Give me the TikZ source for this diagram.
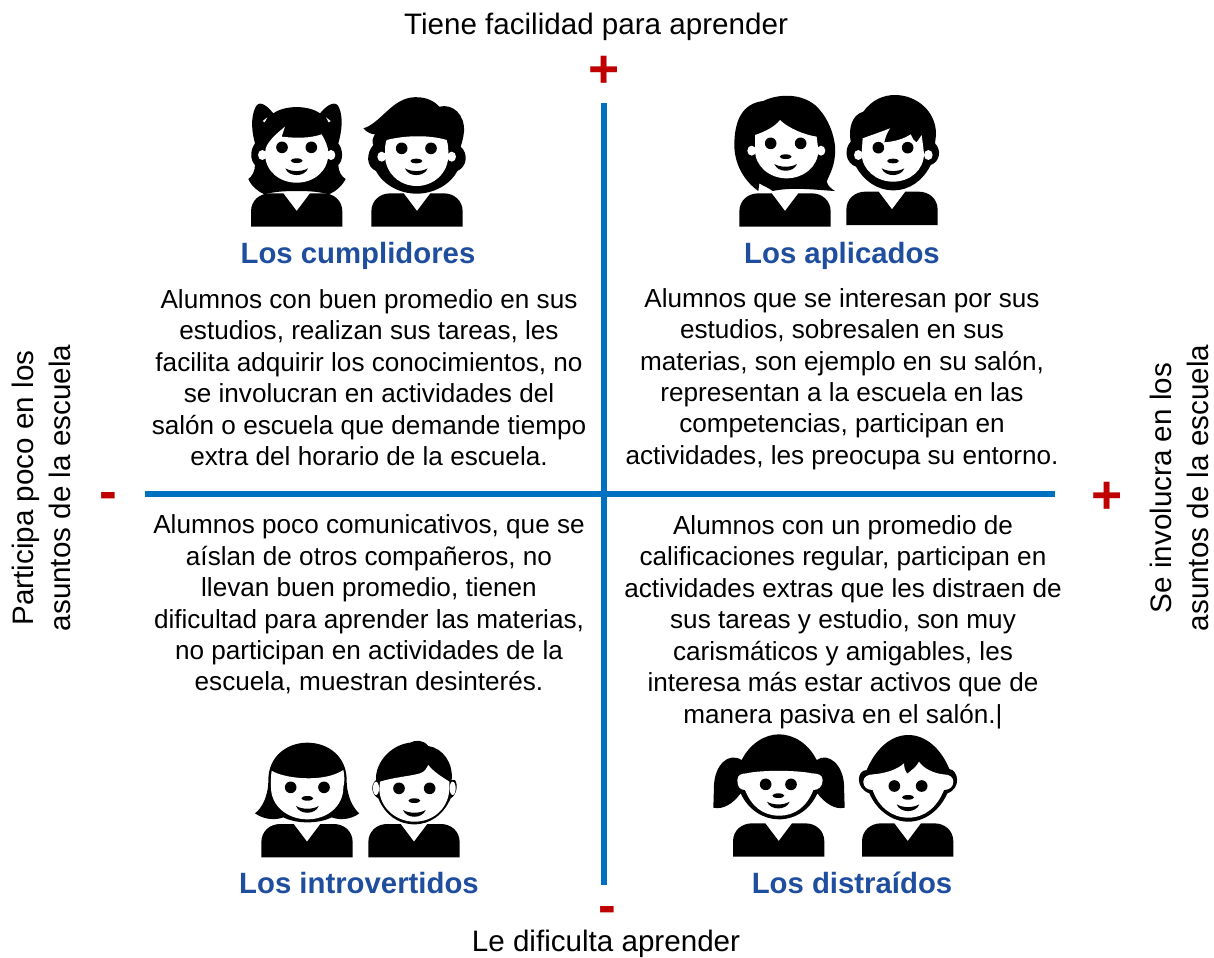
\documentclass[tikz,border=0pt]{standalone}
\usepackage{fontspec}
\setmainfont{Liberation Sans}
\definecolor{ejeblue}{HTML}{0070C0}
\definecolor{signred}{HTML}{C00000}
\definecolor{titleblue}{HTML}{1F4E9E}
\tikzset{
	eje/.style={line width=4.2pt,ejeblue},
	signo/.style={signred,font=\fontsize{40}{40}\selectfont\bfseries,inner sep=0pt},
	rotulo/.style={font=\fontsize{22.2}{27.8}\selectfont,align=center,inner sep=0pt},
	titulo/.style={titleblue,font=\fontsize{22}{24}\selectfont\bfseries,inner sep=0pt},
	parrafo/.style={font=\fontsize{19.6}{23.6}\selectfont,align=center,inner sep=0pt},
	panel/.style={shift={#1},x=0.25pt,y=-0.25pt},
	torso/.pic={
		\fill (-137,0) -- (-137,-45) .. controls (-137,-80) and (-110,-100) .. (-80,-100) -- (-40,-100) -- (0,-47) -- (40,-100) -- (80,-100) .. controls (110,-100) and (137,-80) .. (137,-45) -- (137,0) -- cycle;
	},
}
% ojos, nariz y sonrisa
\newcommand{\carita}[5]{
	\fill (#1-#3,#2) circle(17.5 and 17.5);
	\fill (#1+#3,#2) circle(17.5 and 17.5);
	\fill (#1,#2+#4) ellipse(18 and 7);
	\fill (#1-34,#2+#5) .. controls (#1-15,#2+#5+11) and (#1+15,#2+#5+11) .. (#1+34,#2+#5) .. controls (#1+24,#2+#5+27) and (#1-24,#2+#5+27) .. (#1-34,#2+#5) -- cycle;
}
\begin{document}
\begin{tikzpicture}[x=0.75pt,y=-0.75pt]
	\useasboundingbox (0,0) rectangle (1214,957);

	\coordinate (arriba) at (604,103);
	\coordinate (abajo) at (604,885);
	\coordinate (izq) at (145,494);
	\coordinate (der) at (1055,494);
	\draw[eje] (arriba) -- (abajo);
	\draw[eje] (izq) -- (der);

	\node[signo] (masarriba) at (604,72) {+};
	\node[signo] (menosizq) at (108,501) {-};
	\node[signo] (masder) at (1107,498) {+};
	\node[signo] (menosabajo) at (607,915) {-};

	\node[rotulo] (tiene) at (596,27) {Tiene facilidad para aprender};
	\node[rotulo] (dificulta) at (606,944) {Le dificulta aprender};
	\node[rotulo,rotate=90] (participa) at (41,488) {Participa poco en los\\asuntos de la escuela};
	\node[rotulo,rotate=90] (involucra) at (1179,488) {Se involucra en los\\asuntos de la escuela};

	% arriba izquierda
	\begin{scope}[panel={(230,85)}]
		\pic at (200,425) {torso};
		\pic at (561,425) {torso};
		\fill (75,70) .. controls (85,45) and (105,55) .. (130,85) .. controls (165,60) and (235,60) .. (270,85) .. controls (295,55) and (320,45) .. (328,70) .. controls (340,100) and (335,140) .. (325,175) .. controls (340,195) and (340,225) .. (325,240) .. controls (325,260) and (335,275) .. (347,282) .. controls (335,305) and (315,320) .. (297,328) .. controls (265,320) and (240,318) .. (200,318) .. controls (160,318) and (135,320) .. (103,328) .. controls (85,320) and (65,305) .. (55,282) .. controls (65,275) and (75,260) .. (75,240) .. controls (60,225) and (60,195) .. (75,175) .. controls (65,140) and (62,100) .. (75,70) -- cycle;
		\fill[white] (105,205) .. controls (105,185) and (115,165) .. (165,125) -- (155,155) .. controls (200,160) and (240,160) .. (275,148) .. controls (285,165) and (295,185) .. (295,205) .. controls (295,260) and (250,293) .. (200,293) .. controls (150,293) and (105,260) .. (105,205) -- cycle;
		\fill[white] (97,210) circle(13 and 15);
		\fill[white] (303,210) circle(13 and 15);
		\fill[white] (98,108) -- (112,97) -- (104,112) -- cycle;
		\fill[white] (302,108) -- (288,97) -- (296,112) -- cycle;
		\carita{200}{187}{44}{40}{63}
		\fill (400,130) .. controls (450,115) and (480,50) .. (540,38) .. controls (580,32) and (610,45) .. (628,65) .. controls (670,55) and (705,90) .. (702,140) .. controls (700,160) and (695,175) .. (692,185) .. controls (715,205) and (712,245) .. (682,258) .. controls (660,300) and (610,326) .. (560,326) .. controls (510,326) and (460,300) .. (438,258) .. controls (408,245) and (408,205) .. (430,180) .. controls (425,170) and (428,158) .. (435,148) .. controls (425,148) and (410,142) .. (400,130) -- cycle;
		\fill[white] (465,210) .. controls (465,190) and (465,175) .. (470,165) .. controls (530,150) and (600,150) .. (650,165) .. controls (655,180) and (655,195) .. (655,210) .. controls (655,265) and (610,303) .. (560,303) .. controls (510,303) and (465,265) .. (465,210) -- cycle;
		\fill[white] (455,215) circle(13 and 15);
		\fill[white] (665,215) circle(13 and 15);
		\carita{559}{190}{44}{38}{60}
	\end{scope}

	% arriba derecha
	\begin{scope}[panel={(720,85)}]
		\pic at (195,425) {torso};
		\pic at (516,420) {torso};
		\fill (43,180) .. controls (43,110) and (65,55) .. (130,48) .. controls (165,30) and (235,20) .. (285,60) .. controls (330,100) and (350,170) .. (345,210) .. controls (342,250) and (325,275) .. (320,290) .. controls (325,305) and (335,312) .. (345,318) .. controls (290,315) and (220,305) .. (158,318) .. controls (145,308) and (125,300) .. (118,295) -- (115,318) .. controls (75,290) and (43,240) .. (43,180) -- cycle;
		\fill[white] (105,195) -- (105,150) .. controls (135,140) and (165,125) .. (180,105) .. controls (205,130) and (255,150) .. (290,155) -- (295,195) .. controls (295,245) and (250,280) .. (200,280) .. controls (150,280) and (105,245) .. (105,195) -- cycle;
		\fill[white] (95,197) circle(13 and 15);
		\fill[white] (303,197) circle(13 and 15);
		\carita{197}{175}{45}{40}{62}
		\fill (392,170) .. controls (385,130) and (395,90) .. (430,80) .. controls (455,45) and (490,30) .. (525,30) .. controls (590,30) and (650,80) .. (648,150) -- (645,175) .. controls (665,195) and (660,230) .. (632,240) .. controls (610,285) and (570,316) .. (520,316) .. controls (470,316) and (430,285) .. (408,245) .. controls (378,235) and (370,195) .. (392,170) -- cycle;
		\fill[white] (425,205) -- (428,160) .. controls (455,150) and (485,140) .. (510,130) .. controls (500,145) and (495,160) .. (493,172) .. controls (525,170) and (555,160) .. (572,148) .. controls (575,158) and (582,168) .. (590,172) -- (605,150) -- (612,205) .. controls (612,255) and (570,290) .. (519,290) .. controls (470,290) and (425,255) .. (425,205) -- cycle;
		\fill[white] (415,210) circle(13 and 15);
		\fill[white] (625,210) circle(13 and 15);
		\carita{519}{188}{44}{40}{62}
	\end{scope}

	% abajo izquierda
	\begin{scope}[panel={(240,730)}]
		\pic at (201,382) {torso};
		\pic at (522,382) {torso};
		\fill (45,250) .. controls (65,235) and (85,200) .. (85,150) .. controls (85,80) and (140,38) .. (202,38) .. controls (265,38) and (320,80) .. (320,150) .. controls (320,200) and (340,235) .. (358,250) .. controls (335,268) and (300,272) .. (275,262) .. controls (255,272) and (230,277) .. (202,277) .. controls (175,277) and (150,272) .. (130,262) .. controls (105,272) and (70,268) .. (45,250) -- cycle;
		\fill[white] (95,122) .. controls (130,145) and (250,160) .. (310,120) .. controls (315,140) and (313,160) .. (310,172) .. controls (310,230) and (260,268) .. (202,268) .. controls (145,268) and (93,230) .. (93,172) .. controls (93,155) and (92,140) .. (95,122) -- cycle;
		\carita{202}{172}{50}{33}{56}
		\fill (408,150) .. controls (405,100) and (450,45) .. (510,38) .. controls (525,30) and (550,28) .. (565,48) .. controls (610,55) and (640,100) .. (635,150) -- (645,150) .. controls (655,165) and (650,195) .. (632,205) .. controls (610,255) and (570,283) .. (523,283) .. controls (475,283) and (435,255) .. (415,205) .. controls (395,195) and (390,165) .. (408,150) -- cycle;
		\fill[white] (420,155) .. controls (460,142) and (515,138) .. (540,130) .. controls (555,125) and (560,115) .. (565,105) .. controls (580,125) and (605,140) .. (628,155) -- (628,178) .. controls (625,235) and (580,275) .. (523,275) .. controls (470,275) and (420,235) .. (418,178) -- cycle;
		\fill[white] (408,175) circle(9 and 20);
		\fill[white] (638,175) circle(9 and 20);
		\carita{523}{175}{46}{37}{65}
	\end{scope}

	% abajo derecha
	\begin{scope}[panel={(700,725)}]
		\pic at (236,395) {torso};
		\pic at (623,395) {torso};
		\fill (40,248) -- (42,180) .. controls (45,120) and (85,80) .. (125,105) .. controls (150,55) and (195,28) .. (237,28) .. controls (280,28) and (325,55) .. (350,105) .. controls (385,80) and (430,120) .. (432,180) -- (434,248) .. controls (405,255) and (375,235) .. (352,205) .. controls (330,255) and (285,283) .. (237,283) .. controls (190,283) and (145,255) .. (122,205) .. controls (100,235) and (70,255) .. (40,248) -- cycle;
		\fill[white] (112,165) .. controls (112,150) and (125,145) .. (140,145) .. controls (180,135) and (290,135) .. (335,145) .. controls (355,145) and (368,150) .. (368,165) .. controls (368,185) and (355,195) .. (340,195) .. controls (320,245) and (285,272) .. (237,272) .. controls (190,272) and (155,245) .. (135,195) .. controls (120,195) and (112,185) .. (112,165) -- cycle;
		\carita{235}{178}{38}{34}{52}
		\fill (500,135) .. controls (525,75) and (570,30) .. (625,30) .. controls (680,30) and (725,75) .. (748,132) .. controls (775,135) and (785,190) .. (742,205) .. controls (720,255) and (675,290) .. (625,290) .. controls (575,290) and (530,255) .. (508,205) .. controls (465,190) and (470,135) .. (500,135) -- cycle;
		\fill[white] (490,170) .. controls (490,155) and (505,148) .. (520,148) .. controls (555,145) and (590,135) .. (612,115) .. controls (612,125) and (615,138) .. (622,146) .. controls (635,135) and (650,125) .. (657,110) .. controls (670,130) and (700,145) .. (730,148) .. controls (750,148) and (760,158) .. (760,170) .. controls (760,185) and (748,195) .. (732,195) .. controls (712,245) and (675,278) .. (625,278) .. controls (575,278) and (535,245) .. (518,195) .. controls (500,195) and (490,185) .. (490,170) -- cycle;
		\carita{624}{183}{41}{34}{55}
	\end{scope}

	\node[titulo] (cumplidores) at (358,256) {Los cumplidores};
	\node[titulo] (aplicados) at (842,256) {Los aplicados};
	\node[titulo] (introvertidos) at (359,883) {Los introvertidos};
	\node[titulo] (distraidos) at (852,883) {Los distraídos};

	\node[parrafo] (textoa) at (369,377.5) {Alumnos con buen promedio en sus\\estudios, realizan sus tareas, les\\facilita adquirir los conocimientos, no\\se involucran en actividades del\\salón o escuela que demande tiempo\\extra del horario de la escuela.};
	\node[parrafo] (textob) at (842,379) {Alumnos que se interesan por sus\\estudios, sobresalen en sus\\materias, son ejemplo en su salón,\\representan a la escuela en las\\competencias, participan en\\actividades, les preocupa su entorno.};
	\node[parrafo] (textoc) at (369,604.5) {Alumnos poco comunicativos, que se\\aíslan de otros compañeros, no\\llevan buen promedio, tienen\\dificultad para aprender las materias,\\no participan en actividades de la\\escuela, muestran desinterés.};
	\node[parrafo] (textod) at (843,622) {Alumnos con un promedio de\\calificaciones regular, participan en\\actividades extras que les distraen de\\sus tareas y estudio, son muy\\carismáticos y amigables, les\\interesa más estar activos que de\\manera pasiva en el salón.|};
\end{tikzpicture}
\end{document}
